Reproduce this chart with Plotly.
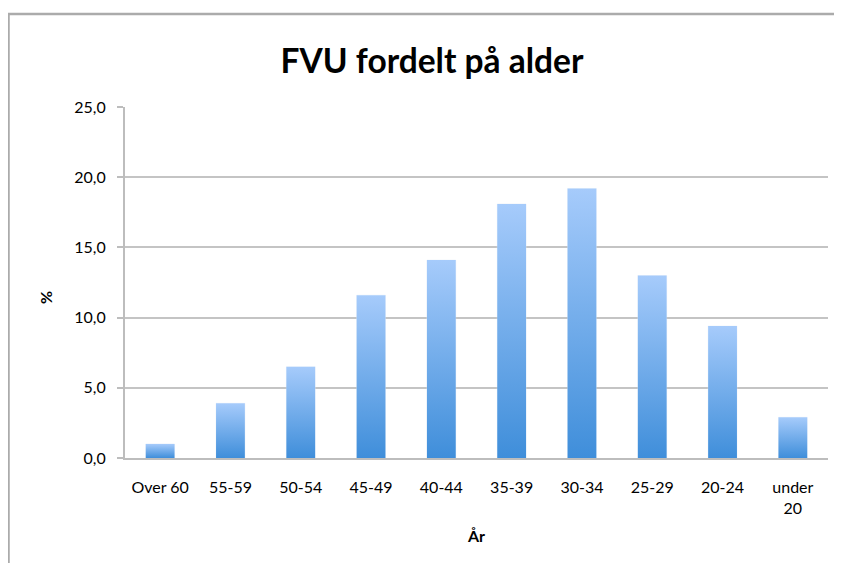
import plotly.graph_objects as go

categories = ["Over 60", "55-59", "50-54", "45-49", "40-44", "35-39", "30-34", "25-29", "20-24", "under<br>20"]
values = [1.0, 3.9, 6.5, 11.6, 14.1, 18.1, 19.2, 13.0, 9.4, 2.9]
y_ticks = [0, 5, 10, 15, 20, 25]

title_text = "FVU fordelt på alder"
x_title = "År"
y_title = "%"

FONT = "Lato, 'Open Sans', sans-serif"
half = 0.205

fig = go.Figure()
for i, (cat, v) in enumerate(zip(categories, values)):
    fig.add_trace(go.Scatter(
        x=[i - half, i - half, i + half, i + half, i - half],
        y=[0, v, v, 0, 0],
        mode="lines",
        line=dict(width=0),
        fill="toself",
        fillgradient=dict(type="vertical",
                          colorscale=[[0, "#3F8EDA"], [1, "#A6CBFB"]]),
        name=cat.replace("<br>", " "),
        hoverinfo="skip",
        showlegend=False,
    ))
fig.add_trace(go.Bar(x=list(range(len(categories))), y=values,
                     marker=dict(color="rgba(0,0,0,0)"), width=2 * half,
                     showlegend=False, hovertemplate="%{y:.1f}<extra></extra>"))

# page has an 8px body margin; figure is sized to fit the window
W, H = 826, 555
L, T = 117, 99
R = W - 820
B = H - 450
pw, ph = W - L - R, H - T - B

def px_x(p):
    return (p - L) / pw

def px_y(p):
    return (H - B - p) / ph

fig.add_shape(type="rect", xref="paper", yref="paper",
              x0=px_x(0.5), x1=px_x(900), y0=px_y(6), y1=px_y(650),
              line=dict(color="#ABABAB", width=2.5), fillcolor="rgba(0,0,0,0)", layer="below")

# y-axis title placed as a rotated annotation (sits slightly below the axis centre)
fig.add_annotation(text="<b>" + y_title + "</b>", xref="paper", yref="paper",
                   x=px_x(37), y=px_y(290), xanchor="center", yanchor="middle",
                   textangle=-90, showarrow=False, font=dict(size=16, family=FONT, color="#000000"))

fig.update_layout(
    width=W, height=H,
    margin=dict(l=L, r=R, t=T, b=B),
    paper_bgcolor="white", plot_bgcolor="white",
    separators=", ",
    font=dict(family=FONT, color="#000000", size=16),
    title=dict(text="<b>" + title_text + "</b>", x=424 / W, xref="container", xanchor="center",
               y=1 - 53 / H, yref="container", yanchor="middle",
               font=dict(size=33.5, family=FONT, color="#000000")),
    xaxis=dict(range=[-0.5, len(categories) - 0.5], tickmode="array",
               tickvals=list(range(len(categories))), ticktext=categories,
               showgrid=False, zeroline=False, showline=True, linecolor="#BDBDBD", linewidth=2,
               ticks="", tickfont=dict(size=16, family=FONT), ticklabelstandoff=14,
               title=dict(text="<b>" + x_title + "</b>", font=dict(size=16, family=FONT), standoff=15)),
    yaxis=dict(range=[0, 25], tickmode="array", tickvals=y_ticks, tickformat=".1f",
               showgrid=True, gridcolor="#C4C4C4", gridwidth=2, zeroline=False,
               showline=True, linecolor="#BDBDBD", linewidth=2,
               ticks="outside", ticklen=6, tickcolor="#BDBDBD", tickwidth=2,
               tickfont=dict(size=16, family=FONT), ticklabelstandoff=8),
)

fig.write_html("out.html")
